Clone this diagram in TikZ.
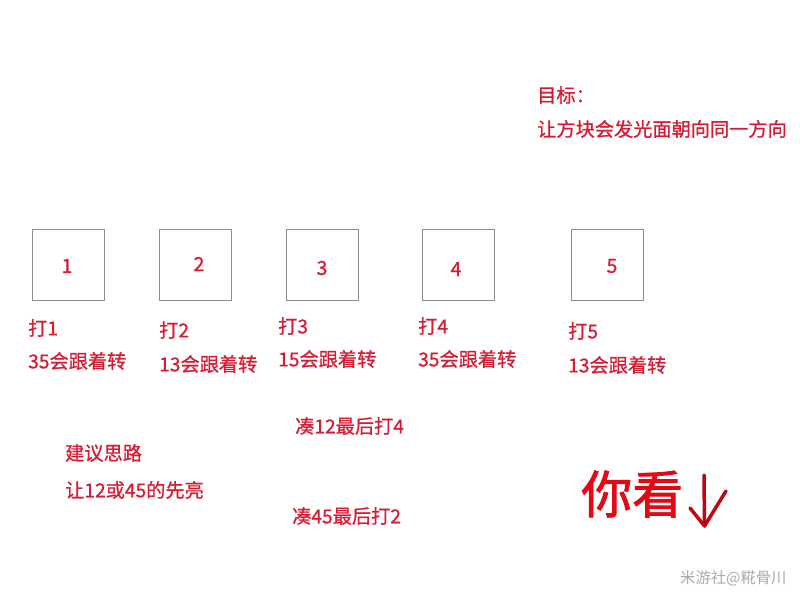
\documentclass[tikz,border=0pt]{standalone}
\usepackage{fontspec}
\setmainfont{Noto Sans CJK SC}
\newfontfamily\medfont[FakeBold=0.8]{Noto Sans CJK SC}
\newfontfamily\boldfont[FakeBold=1.6]{Noto Sans CJK SC}
\definecolor{lab}{RGB}{214,28,52}
\definecolor{big}{RGB}{226,8,20}
\definecolor{boxc}{RGB}{140,140,140}
\definecolor{wm}{RGB}{170,170,170}
\begin{document}
\begin{tikzpicture}[x=1pt,y=-1pt,
  cube/.style={draw=boxc,line width=0.9pt,minimum width=72pt,minimum height=71pt,inner sep=0pt},
  num/.style={text=lab,inner sep=0pt,font=\medfont\fontsize{19.5}{19.5}\selectfont},
  lbl/.style={text=lab,inner sep=0pt,anchor=west,font=\medfont\fontsize{19.2}{19.5}\selectfont},
  bigtxt/.style={text=big,inner sep=0pt,anchor=west,font=\boldfont\fontsize{51}{51}\selectfont},
  wmk/.style={text=wm,inner sep=0pt,anchor=west,font=\fontsize{15.3}{15.3}\selectfont},
  hand/.style={draw=big!85!black,line width=3.5pt,line cap=round,line join=round}]
\useasboundingbox[fill=white] (0,0) rectangle (800,600);
% boxes
\node[cube] (b1) at (68,264.5) {};
\node[cube] (b2) at (195,264.5) {};
\node[cube] (b3) at (322,264.5) {};
\node[cube] (b4) at (458.5,264.5) {};
\node[cube] (b5) at (607.5,264.5) {};
\node[num] (n1) at (67,266) {1};
\node[num] (n2) at (199,264) {2};
\node[num] (n3) at (322,268) {3};
\node[num] (n4) at (456,269) {4};
\node[num] (n5) at (612,266) {5};
% labels under boxes
\node[lbl] (h1) at (28,328) {打1};
\node[lbl] (f1) at (28,361) {35会跟着转};
\node[lbl] (h2) at (159,330) {打2};
\node[lbl] (f2) at (159,364) {13会跟着转};
\node[lbl] (h3) at (278,326) {打3};
\node[lbl] (f3) at (278,359) {15会跟着转};
\node[lbl] (h4) at (418,326) {打4};
\node[lbl] (f4) at (418,359) {35会跟着转};
\node[lbl] (h5) at (568,331) {打5};
\node[lbl] (f5) at (568,365) {13会跟着转};
% goal
\node[lbl] (g1) at (537,95) {目标：};
\node[lbl] (g2) at (537,129) {让方块会发光面朝向同一方向};
% hints
\node[lbl] (c1) at (295,426) {凑12最后打4};
\node[lbl] (c2) at (292,516) {凑45最后打2};
\node[lbl] (s1) at (65,453) {建议思路};
\node[lbl] (s2) at (65,490) {让12或45的先亮};
% big text and hand arrow
\node[bigtxt] (nk) at (581,494) {你看};
\coordinate (aT) at (704,475);
\coordinate (aB) at (704.5,526);
\coordinate (aL) at (690,508);
\coordinate (aR) at (726,491);
\draw[hand] (aT) -- (aB);
\draw[hand] (aL) -- (aB) -- (aR);
% watermark
\node[wmk] (wmark) at (680,578) {米游社@糀骨川};
\end{tikzpicture}
\end{document}
